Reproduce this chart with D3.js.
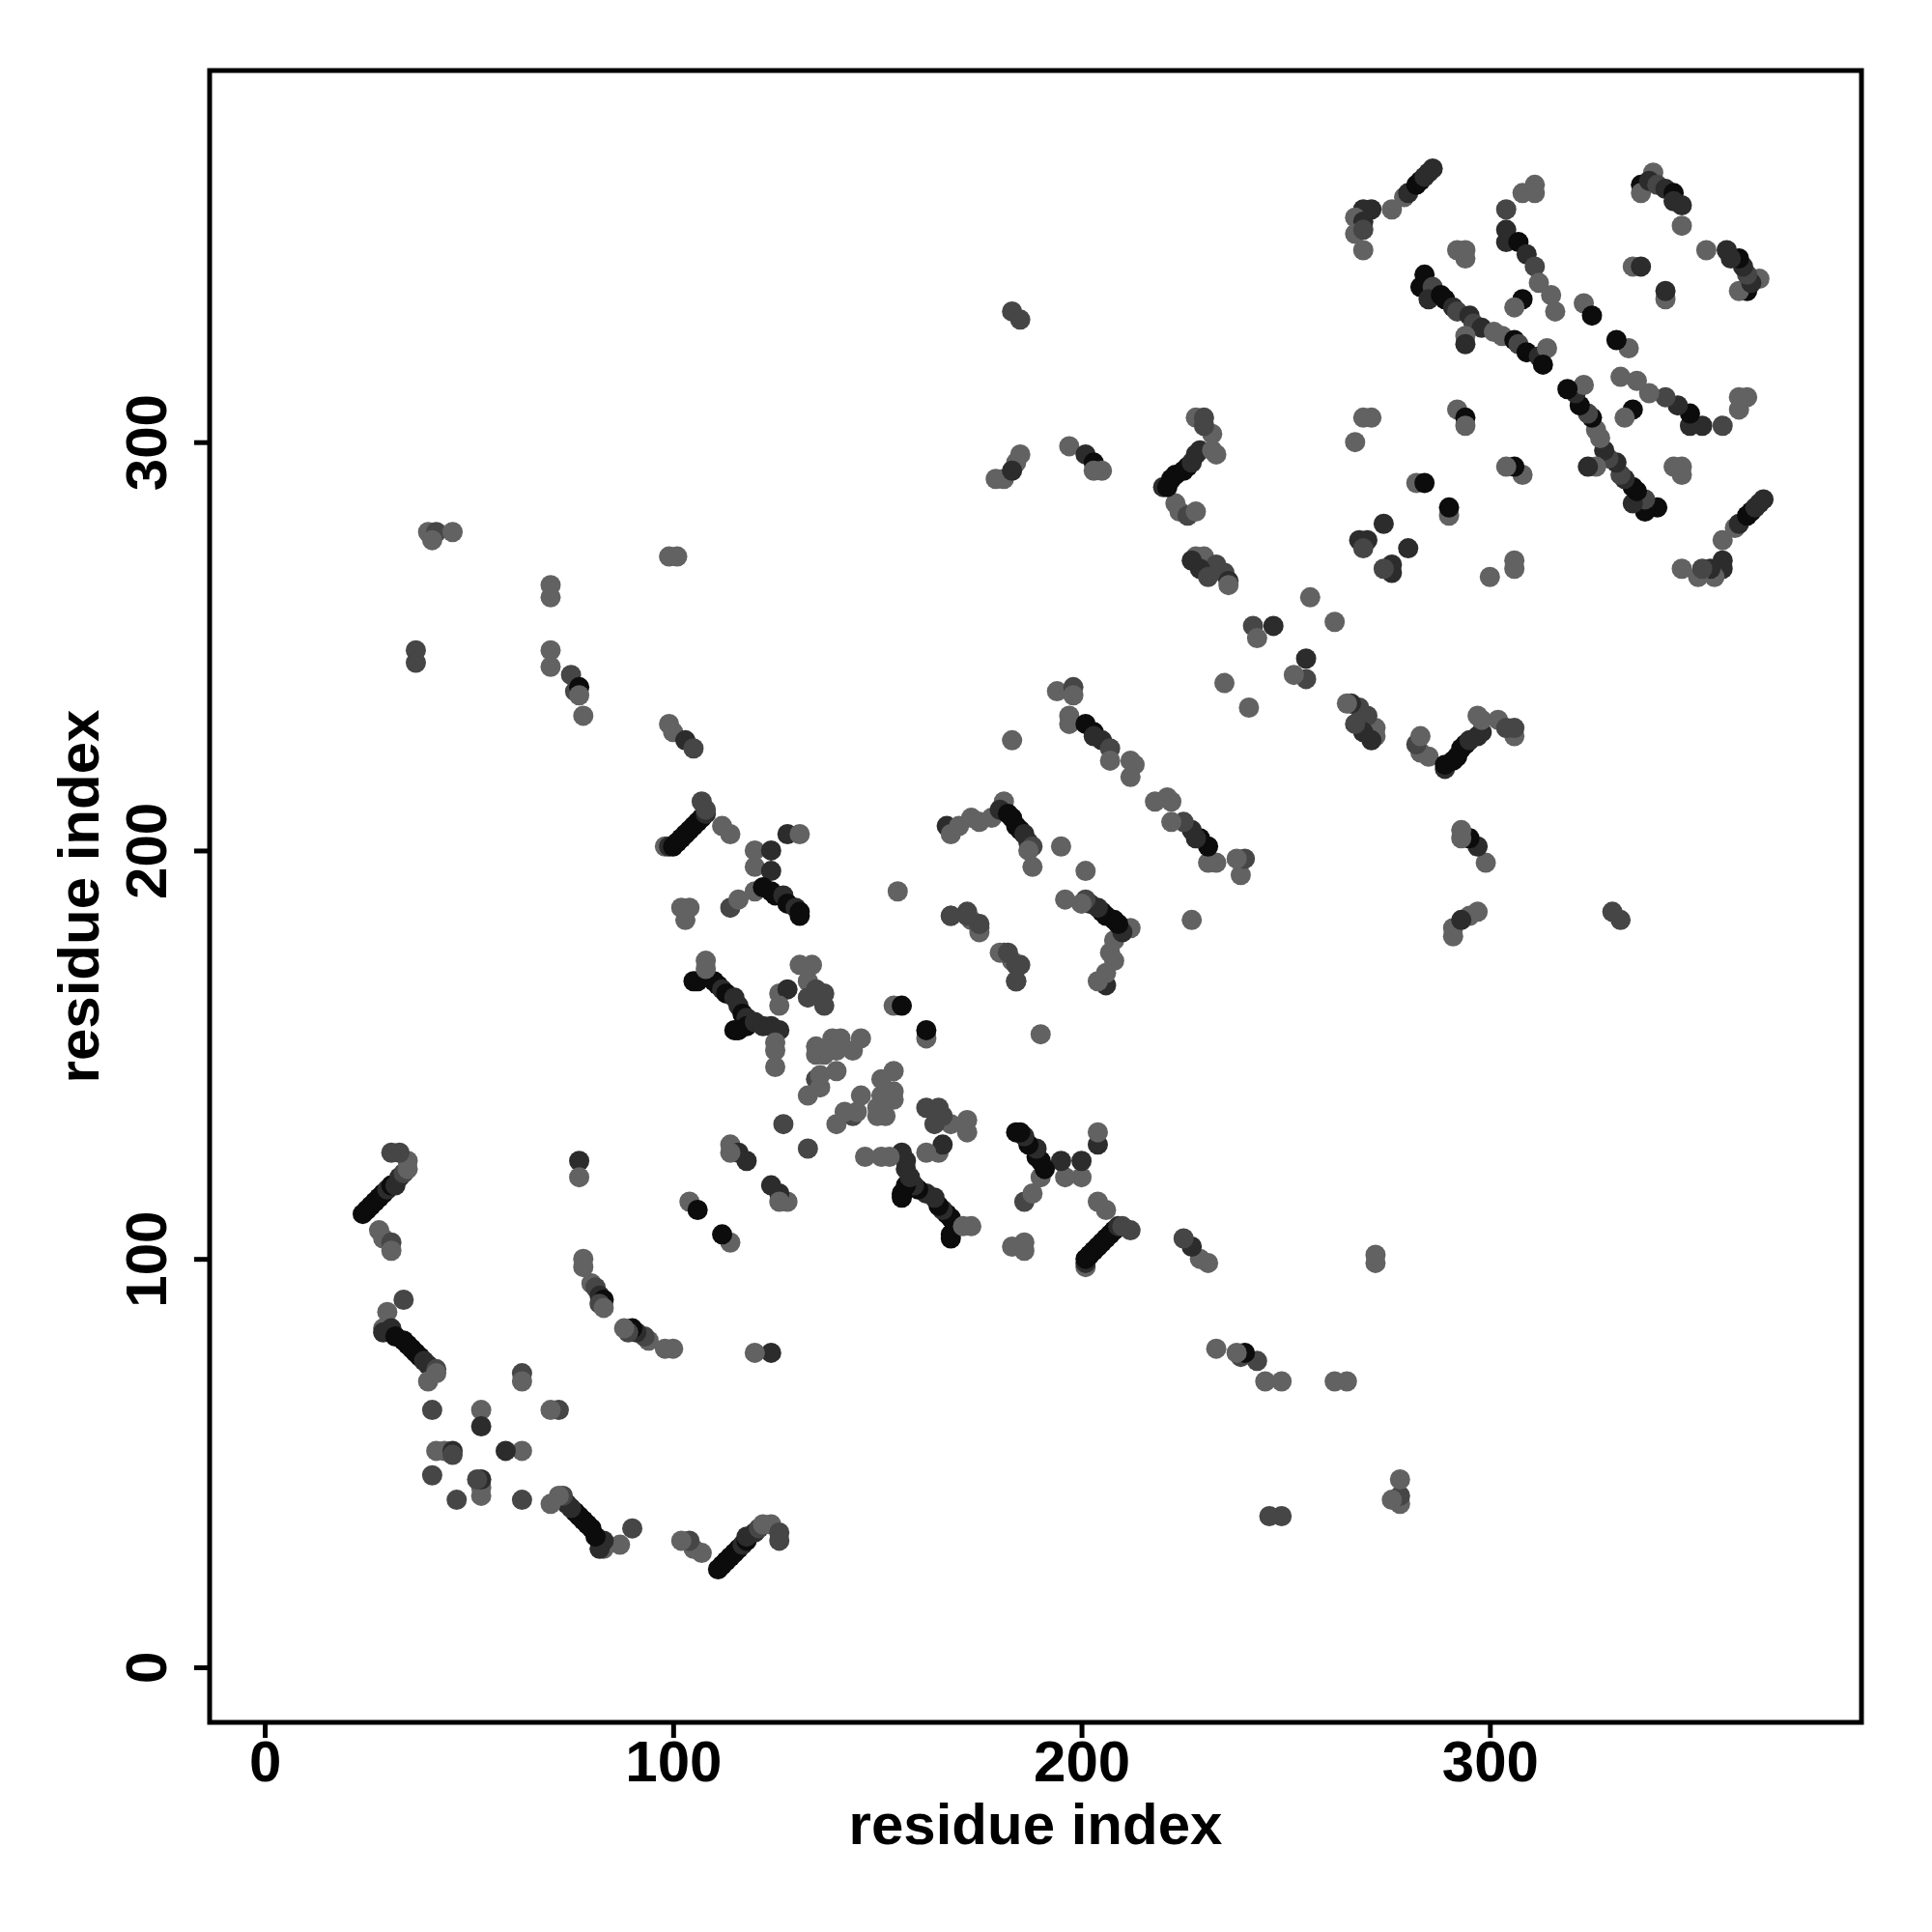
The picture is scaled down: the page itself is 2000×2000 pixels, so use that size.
<!DOCTYPE html>
<html>
<head>
<meta charset="utf-8">
<script src="https://cdn.jsdelivr.net/npm/d3@7"></script>
<style>
  html, body { margin: 0; padding: 0; background: #ffffff; }
  svg { display: block; }
  text { font-family: "Liberation Sans", Arial, Helvetica, sans-serif; font-weight: bold; }
</style>
</head>
<body>
<script>
// Contact pairs (upper triangle, i < j); the map is symmetric, so each pair is drawn at (i,j) and (j,i).
const resI = [
  24,25,26,27,28,29,30,31,32,33,34,35,35,33,31,28,29,31,31,
  34,30,29,29,31,32,34,35,36,37,38,39,40,42,42,40,
  41,53,53,63,63,42,44,46,46,41,
  77,77,
  78,78,80,81,82,83,82,83,
  40,42,46,41,37,37,70,70,70,70,75,76,77,77,78,99,101,99,100,103,105,107,
  98,99,100,101,102,103,104,105,106,107,108,108,112,114,120,124,128,131,120,124,
  102,104,103,114,116,120,122,124,125,127,128,130,131,131,
  105,106,108,110,111,112,113,115,116,117,118,115,116,118,120,122,124,126,
  108,108,125,125,125,131,134,126,128,126,133,135,133,135,135,135,133,127,
  114,116,118,114,104,106,
  155,168,172,173,175,180,182,184,184,137,137,154,156,139,141,140,144,146,137,140,136,136,
  223,224,226,228,228,230,233,235,236,236,227,229,231,242,247,243,235,
  194,198,198,197,197,201,203,203,205,207,207,212,213,212,183,
  167,168,170,173,175,178,181,180,182,183,184,185,186,187,188,187,195,188,
  183,185,197,201,203,205,203,179,181,184,185,183,
  220,221,222,223,225,226,227,228,229,232,232,233,228,230,230,
  274,268,270,269,256,
  271,269,267,269,267,269,269,276,279,280,282,283,284,285,286,
  304,308,311,311,304,304,307,309,311,312,315,316,308,306,323,325,
  340,337,337,339,341,343,345,345,347,347,335,337,292,294,294,
  284,283,286,285,288,289,291,292,295,296,298,301,303,306,307,309,312,314,313,
  294,294,292,294,294,269,271,267,282,284
];
const resJ = [
  111,112,113,114,115,116,117,118,118,120,121,122,124,126,126,107,105,104,102,
  90,87,83,82,83,81,80,79,78,77,76,75,74,73,72,70,
  63,63,59,72,70,53,53,53,52,47,
  124,120,
  100,98,94,93,91,90,89,88,
  278,278,278,276,249,246,265,262,249,245,243,239,240,238,233,272,272,231,229,227,225,212,
  201,201,201,202,203,204,205,206,207,208,209,210,206,204,200,200,204,204,196,195,
  186,186,183,186,188,190,191,190,189,189,187,186,185,184,
  168,168,169,168,167,166,165,164,162,160,159,156,156,157,158,157,157,156,
  173,171,153,151,147,172,172,165,166,162,168,166,164,152,150,144,140,133,
  128,126,124,126,114,112,
  190,184,185,183,181,175,175,172,168,165,162,162,162,154,154,151,151,154,150,146,145,142,
  285,283,282,283,272,272,270,268,266,265,271,269,267,255,255,252,241,
  239,240,238,233,231,231,229,228,227,225,222,222,221,218,227,
  206,204,206,208,207,208,212,210,209,208,206,205,204,202,201,200,201,196,
  332,330,299,297,295,293,293,291,291,295,297,293,
  289,289,291,292,293,294,295,297,298,302,298,297,306,306,304,
  280,276,276,274,262,
  357,357,355,354,351,352,347,357,360,361,363,364,365,366,367,
  357,361,363,361,352,349,349,346,343,339,336,332,335,333,334,331,
  366,363,361,364,363,362,361,359,358,353,343,343,347,347,345,
  341,338,338,335,336,335,333,332,331,329,328,327,326,325,324,322,321,323,319,
  326,324,308,306,304,306,306,300,290,290
];
// 0 = black, 1 = dark, 2 = mid grey, 3 = light grey
const shade = [
  0,0,0,0,0,0,1,0,1,1,2,3,3,2,2,3,3,2,3,
  2,3,3,1,1,0,0,0,0,0,0,1,1,2,3,3,
  2,3,1,2,3,3,3,1,2,2,
  1,3,
  3,3,3,2,1,0,2,3,
  3,2,3,3,2,2,3,3,3,3,2,2,0,3,3,3,3,3,3,1,2,2,
  3,1,0,0,0,0,0,0,0,0,1,2,3,3,3,1,1,3,3,1,
  3,3,3,2,3,3,0,0,0,1,0,1,0,0,
  0,0,0,0,0,1,0,1,1,0,1,0,0,0,1,1,1,1,
  3,3,3,3,3,3,3,3,1,3,3,2,2,3,3,2,3,2,
  3,1,1,3,3,0,
  3,2,2,3,2,3,2,2,2,2,2,3,0,3,3,3,3,3,3,3,3,3,
  3,3,2,3,3,3,2,2,1,3,1,1,2,2,1,3,3,
  3,2,3,3,3,0,0,1,1,2,3,3,3,3,3,
  1,3,3,3,3,3,3,1,0,0,0,0,1,1,2,3,3,3,
  2,2,3,1,0,3,3,3,3,3,3,1,
  1,0,0,0,0,0,1,1,1,3,3,3,3,2,2,
  1,1,1,2,3,
  1,1,3,1,3,2,3,3,3,1,0,0,1,1,1,
  2,3,3,3,1,1,0,1,2,3,3,3,0,3,3,0,
  3,0,3,1,2,1,0,1,1,3,3,1,3,3,3,
  0,0,2,1,0,0,1,2,1,2,1,3,3,0,2,0,1,3,0,
  3,1,3,0,3,3,3,3,3,0
];
const shadeColors = ["#0c0c0c", "#2c2c2c", "#464646", "#626262"];
const xTicks = [0, 100, 200, 300];
const yTicks = [0, 100, 200, 300];
const axisTitle = "residue index";

const W = 2000, H = 2000;
const svg = d3.select("body").append("svg").attr("width", W).attr("height", H);
svg.append("rect").attr("width", W).attr("height", H).attr("fill", "#ffffff");

const box = { left: 217, right: 1927, top: 73, bottom: 1783 };
const x = d3.scaleLinear().domain([-13.5, 391]).range([box.left, box.right]);
const y = d3.scaleLinear().domain([-13.5, 391]).range([box.bottom, box.top]);
const color = d3.scaleOrdinal().domain([0, 1, 2, 3]).range(shadeColors);

const pts = [];
const n = Math.min(resI.length, resJ.length, shade.length);
for (let k = 0; k < n; k++) {
  pts.push({ a: resI[k], b: resJ[k], s: shade[k] });
  pts.push({ a: resJ[k], b: resI[k], s: shade[k] });
}

svg.append("g").selectAll("circle").data(pts).join("circle")
  .attr("cx", d => x(d.a))
  .attr("cy", d => y(d.b))
  .attr("r", 10.5)
  .attr("fill", d => color(d.s));

// box
svg.append("rect")
  .attr("x", box.left).attr("y", box.top)
  .attr("width", box.right - box.left).attr("height", box.bottom - box.top)
  .attr("fill", "none").attr("stroke", "#000").attr("stroke-width", 5);

// x axis
const gx = svg.append("g").attr("transform", `translate(0,${box.bottom})`)
  .call(d3.axisBottom(x).tickValues(xTicks).tickSize(16).tickPadding(2).tickFormat(d3.format("d")));
gx.select(".domain").remove();
gx.selectAll(".tick line").attr("stroke", "#000").attr("stroke-width", 5);
gx.selectAll(".tick text").attr("fill", "#000").style("font-size", "60px")
  .style("font-family", '"Liberation Sans", Arial, sans-serif').style("font-weight", "bold");

// y axis
const gy = svg.append("g").attr("transform", `translate(${box.left},0)`)
  .call(d3.axisLeft(y).tickValues(yTicks).tickSize(16).tickFormat(d3.format("d")));
gy.select(".domain").remove();
gy.selectAll(".tick line").attr("stroke", "#000").attr("stroke-width", 5);
gy.selectAll(".tick text")
  .attr("x", null).attr("dy", null)
  .attr("transform", "translate(-45,0) rotate(-90)")
  .attr("text-anchor", "middle")
  .attr("fill", "#000").style("font-size", "60px")
  .style("font-family", '"Liberation Sans", Arial, sans-serif').style("font-weight", "bold");

// titles
svg.append("text")
  .attr("x", (box.left + box.right) / 2).attr("y", 1909)
  .attr("text-anchor", "middle").style("font-size", "60px").attr("fill", "#000")
  .text(axisTitle);
svg.append("text")
  .attr("transform", `translate(102,${(box.top + box.bottom) / 2}) rotate(-90)`)
  .attr("text-anchor", "middle").style("font-size", "60px").attr("fill", "#000")
  .text(axisTitle);
</script>
</body>
</html>
